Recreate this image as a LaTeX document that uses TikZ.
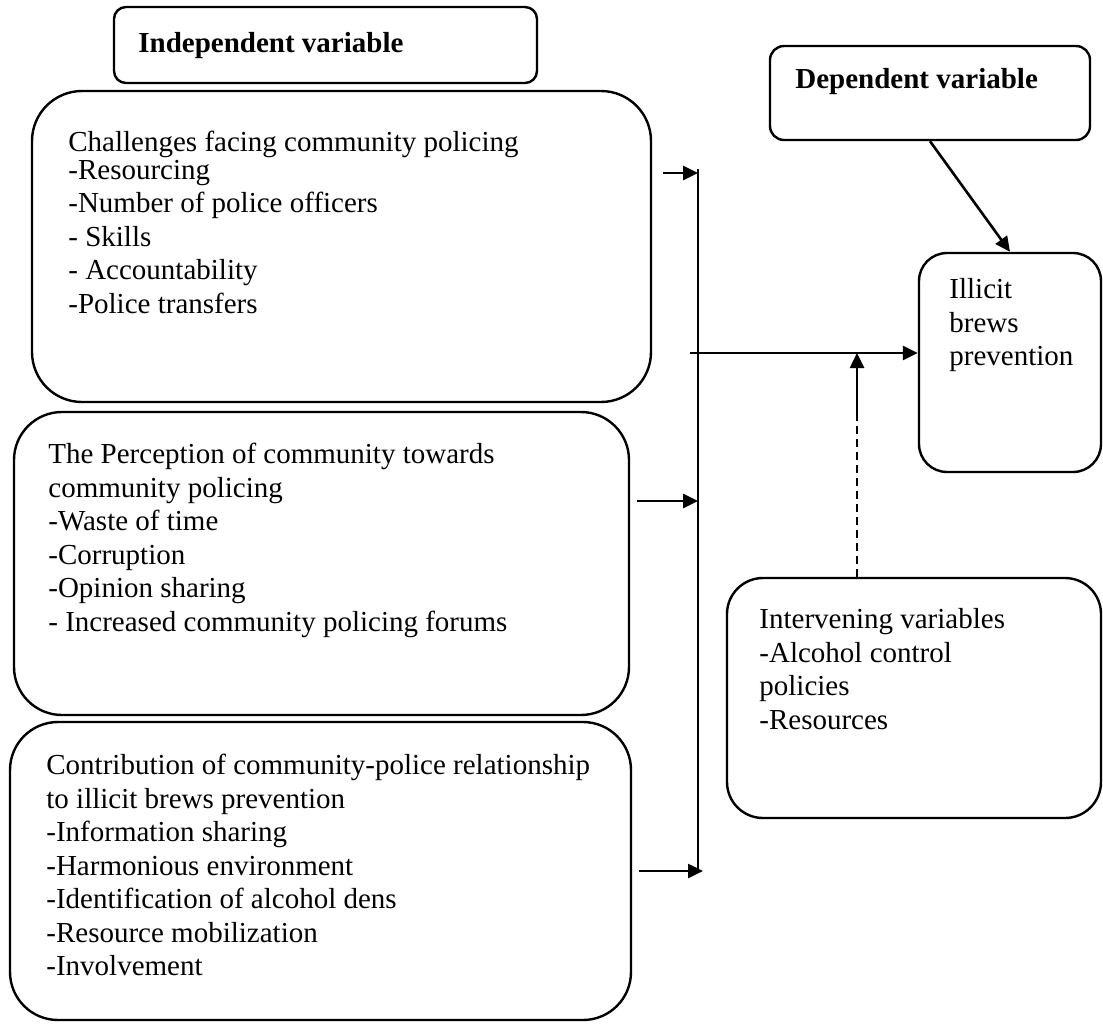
\documentclass[tikz,border=0pt]{standalone}
\usepackage{fontspec}
\setmainfont{Liberation Serif}
\usetikzlibrary{arrows.meta,fit}
\begin{document}
\begin{tikzpicture}[x=0.5pt,y=-0.5pt,
  box/.style={draw, line width=1.2pt, rounded corners=#1, inner sep=0pt},
  txt/.style={inner sep=0pt, anchor=north west, align=left, font=\fontsize{14.5}{16.75}\selectfont},
  btxt/.style={inner sep=0pt, anchor=base west, font=\fontsize{14.5}{16.75}\selectfont\bfseries},
  arr/.style={line width=1.3pt, -{Triangle[length=7.5pt,width=7pt]}},
]
\useasboundingbox (0,0) rectangle (1103,1023);
\fill[white] (0,0) rectangle (1103,1023);

\node[box=6pt, fit={(114,7) (537,83)}] (indep) {};
\node[btxt] (indepT) at (138,52) {Independent variable};

\node[box=25pt, fit={(32,91) (651,402)}] (b1) {};
\node[txt] (b1T) at (68,131) {Challenges facing community policing\\[-3pt] -Resourcing\\ -Number of police officers\\ - Skills\\ - Accountability\\ -Police transfers};

\node[box=24pt, fit={(14,412) (629,715)}] (b2) {};
\node[txt] (b2T) at (48,443) {The Perception of community towards\\ community policing\\ -Waste of time\\ -Corruption\\ -Opinion sharing\\ - Increased community policing forums};

\node[box=24pt, fit={(10,722) (631,1020)}] (b3) {};
\node[txt] (b3T) at (46,754) {Contribution of community-police relationship\\ to illicit brews prevention\\ -Information sharing\\ -Harmonious environment\\ -Identification of alcohol dens\\ -Resource mobilization\\ -Involvement};

\node[box=7pt, fit={(770,46) (1090,140)}] (dep) {};
\node[btxt] (depT) at (795,88) {Dependent variable};

\node[box=14pt, fit={(919,253) (1101,472)}] (ill) {};
\node[txt] (illT) at (949,278) {Illicit\\ brews\\ prevention};

\node[box=18pt, fit={(727,578) (1101,818)}] (inter) {};
\node[txt] (interT) at (759,608) {Intervening variables\\ -Alcohol control\\ policies\\ -Resources};

% connectors
\coordinate (vtop) at (698,169);
\coordinate (vbot) at (698,870);
\draw[line width=0.6pt] (vtop) -- (vbot);

\coordinate (a1s) at (663,173);
\draw[arr] (a1s) -- (a1s -| vtop);
\coordinate (a2s) at (637,501);
\draw[arr] (a2s) -- (a2s -| vtop);
\coordinate (a3s) at (639,871);
\coordinate (a3e) at (703,871);
\draw[arr] (a3s) -- (a3e);

\coordinate (hs) at (690,353);
\draw[arr] (hs) -- (hs -| ill.west);

\draw[arr] (dep.south) -- (ill.north);

\coordinate (im) at (857,420);
\draw[line width=1pt, dash pattern=on 4pt off 2.5pt] (inter.north -| im) -- (im);
\draw[arr] (im) -- (im |- hs);
\end{tikzpicture}
\end{document}
